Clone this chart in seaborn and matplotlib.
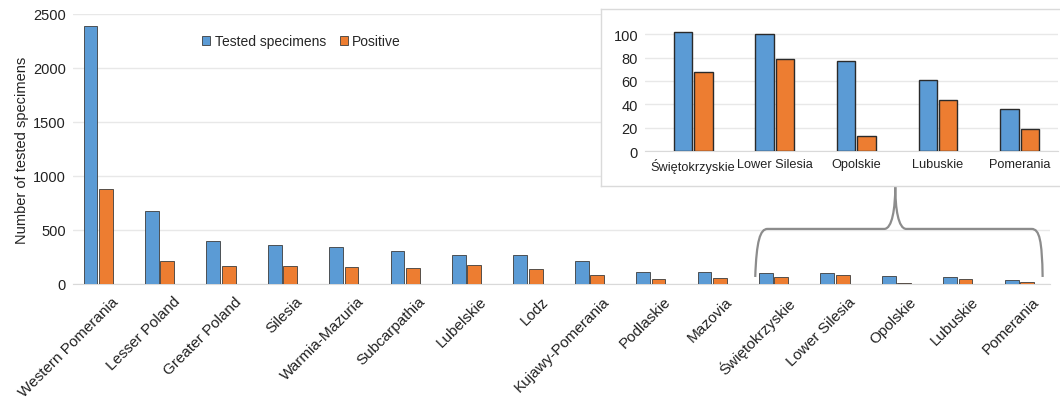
import numpy as np
import pandas as pd
import matplotlib
matplotlib.use("Agg")
import matplotlib.pyplot as plt
import matplotlib.transforms as mtransforms
import seaborn as sns
from matplotlib.path import Path
from matplotlib.patches import PathPatch

# Data
regions = ["Western Pomerania", "Lesser Poland", "Greater Poland", "Silesia",
           "Warmia-Mazuria", "Subcarpathia", "Lubelskie", "Lodz",
           "Kujawy-Pomerania", "Podlaskie", "Mazovia", "Świętokrzyskie",
           "Lower Silesia", "Opolskie", "Lubuskie", "Pomerania"]
tested = [2390, 675, 396, 362, 340, 303, 269, 266, 214, 112, 112,
          102, 100, 77, 61, 36]
positive = [882, 213, 164, 170, 158, 151, 176, 142, 86, 46, 60,
            68, 79, 13, 44, 19]
inset_regions = regions[-5:]
main_ticks = [0, 500, 1000, 1500, 2000, 2500]
inset_ticks = [0, 20, 40, 60, 80, 100]

BLUE = "#5b9bd5"
ORANGE = "#ed7d31"
EDGE = "#3c3c3c"
GRID = "#e8e8e8"
TXT = "#222222"

df = pd.DataFrame({
    "region": regions * 2,
    "value": tested + positive,
    "series": ["Tested specimens"] * len(regions) + ["Positive"] * len(regions),
})
df_inset = df[df["region"].isin(inset_regions)]

sns.set_style("white")
plt.rcParams["font.family"] = ["Liberation Sans", "DejaVu Sans"]

W, H = 1060, 402
fig = plt.figure(figsize=(W / 100, H / 100), dpi=100)


def px(x0, y0, x1, y1):
    """pixel box (left, top, right, bottom) -> figure rect"""
    return [x0 / W, 1 - y1 / H, (x1 - x0) / W, (y1 - y0) / H]


# Main chart
ax = fig.add_axes(px(73, 15, 1050, 285))
sns.barplot(data=df, x="region", y="value", hue="series", order=regions,
            palette=[BLUE, ORANGE], saturation=1, width=0.5, gap=0.1,
            edgecolor=EDGE, linewidth=0.6, ax=ax, zorder=3)
ax.set_ylim(0, 2500)
ax.set_xlim(-0.41, len(regions) - 0.5)
ax.set_yticks(main_ticks)
ax.set_yticklabels([str(t) for t in main_ticks], fontsize=10.5, color=TXT)
ax.yaxis.grid(True, color=GRID, linewidth=1, zorder=0)
ax.set_axisbelow(True)
for s in ["top", "right", "left"]:
    ax.spines[s].set_visible(False)
ax.spines["bottom"].set_color("#d9d9d9")
ax.tick_params(axis="both", length=0, pad=5)
ax.set_xticks(range(len(regions)))
ax.set_xticklabels(regions, rotation=45, ha="right", va="top",
                   rotation_mode="anchor", fontsize=11, color=TXT)
shift = mtransforms.ScaledTranslation(0.13, -0.03, fig.dpi_scale_trans)
for lbl in ax.get_xticklabels():
    lbl.set_transform(lbl.get_transform() + shift)
ax.set_xlabel("")
ax.set_ylabel("Number of tested specimens", fontsize=10.5, color=TXT,
              labelpad=3)

ax.legend(loc="center left", bbox_to_anchor=(0.125, 0.9), ncol=2,
          frameon=False, fontsize=10, borderpad=0, handlelength=0.6,
          handleheight=0.6, handletextpad=0.3, columnspacing=1.0)

# Brace linking the last five groups to the inset
verts = [(10.70, 65), (10.72, 400), (10.78, 510), (10.90, 510),
         (12.80, 510), (12.93, 510), (12.98, 700), (12.98, 905),
         (12.98, 700), (13.03, 510), (13.16, 510),
         (15.20, 510), (15.33, 510), (15.37, 400), (15.38, 65)]
codes = [Path.MOVETO, Path.CURVE4, Path.CURVE4, Path.CURVE4,
         Path.LINETO, Path.CURVE4, Path.CURVE4, Path.CURVE4,
         Path.CURVE4, Path.CURVE4, Path.CURVE4,
         Path.LINETO, Path.CURVE4, Path.CURVE4, Path.CURVE4]
ax.add_patch(PathPatch(Path(verts, codes), facecolor="none",
                       edgecolor="#8c8c8c", linewidth=1.6, clip_on=False,
                       zorder=5))

# Inset frame
box = fig.add_axes(px(601, 10, 1062, 187))
box.set_xticks([])
box.set_yticks([])
box.set_facecolor("white")
for s in box.spines.values():
    s.set_color("#dadada")
    s.set_linewidth(1)

# Inset chart
ins = fig.add_axes(px(645, 23.6, 1058, 152))
sns.barplot(data=df_inset, x="region", y="value", hue="series",
            order=inset_regions, palette=[BLUE, ORANGE], saturation=1,
            width=0.5, gap=0.1, edgecolor="#2a2a2a", linewidth=1.0,
            ax=ins, zorder=3, legend=False)
ins.set_ylim(0, 110)
ins.set_xlim(-0.59, 4.47)
ins.set_yticks(inset_ticks)
ins.set_yticklabels([str(t) for t in inset_ticks], fontsize=10.5, color=TXT)
ins.yaxis.grid(True, color=GRID, linewidth=1, zorder=0)
ins.set_axisbelow(True)
ins.set_facecolor("none")
for s in ["top", "right", "left"]:
    ins.spines[s].set_visible(False)
ins.spines["bottom"].set_color("#d9d9d9")
ins.tick_params(axis="both", length=0, pad=5)
ins.set_xticks(range(len(inset_regions)))
ins.set_xticklabels(inset_regions, fontsize=9.2, color=TXT)
ins.set_xlabel("")
ins.set_ylabel("")

fig.savefig("out.png", dpi=100)
